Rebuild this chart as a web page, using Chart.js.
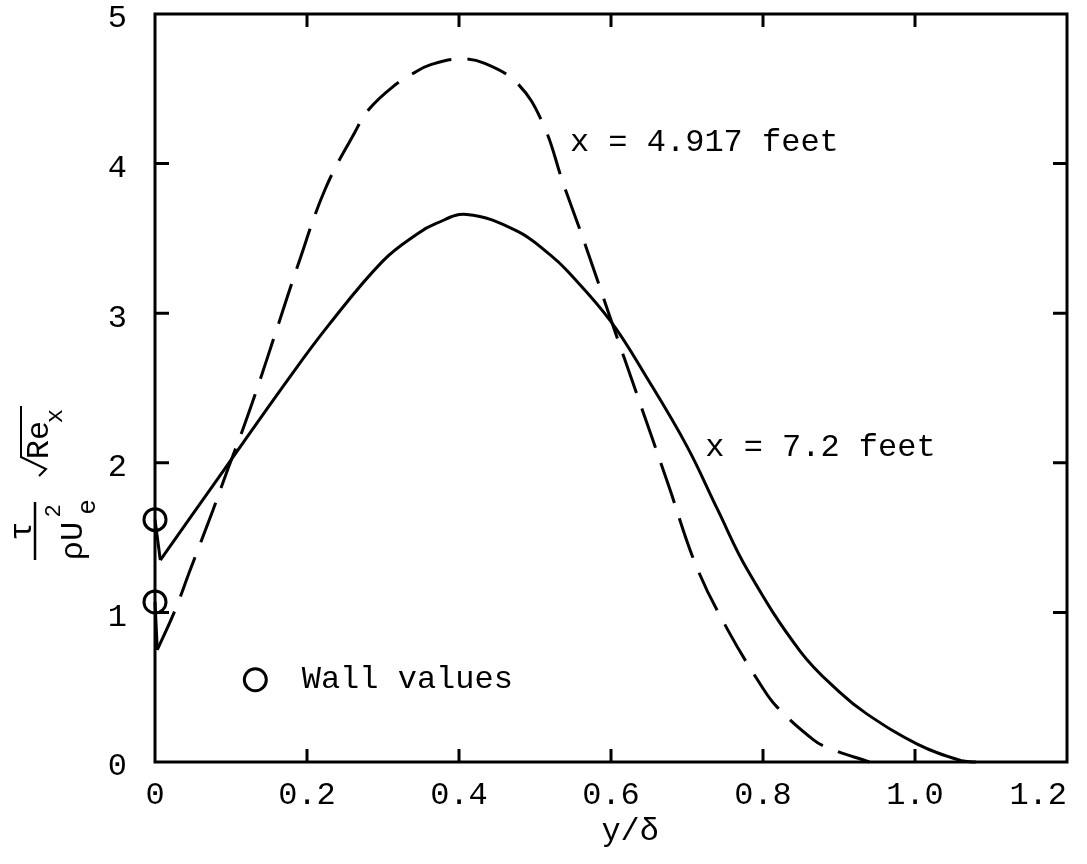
<!DOCTYPE html>
<html>
<head>
<meta charset="utf-8">
<title>Shear stress profiles</title>
<script src="https://cdn.jsdelivr.net/npm/chart.js@4.4.0/dist/chart.umd.min.js"></script>
<style>
html, body { margin: 0; padding: 0; background: #fff; }
#wrap { width: 1087px; height: 864px; position: relative; }
</style>
</head>
<body>
<div id="wrap"><canvas id="chart"></canvas></div>
<script>
// values: y/delta and tau/(rho Ue^2) * sqrt(Re_x)
// first two points of each curve are the drop from the wall value
var yd72 = [0, 0.007, 0.089, 0.174, 0.23, 0.30, 0.345, 0.37, 0.41, 0.476, 0.52, 0.543, 0.599, 0.647, 0.70, 0.74, 0.78, 0.849, 0.90, 0.937, 1.003, 1.06, 1.08];
var tau72 = [1.62, 1.35, 1.94, 2.55, 2.93, 3.35, 3.53, 3.60, 3.66, 3.55, 3.39, 3.28, 2.95, 2.57, 2.11, 1.69, 1.28, 0.74, 0.47, 0.32, 0.12, 0.01, 0];

var yd49 = [0, 0.003, 0.026, 0.046, 0.076, 0.096, 0.116, 0.134, 0.160, 0.188, 0.224, 0.263, 0.281, 0.312, 0.342, 0.362, 0.40, 0.434, 0.478, 0.511, 0.537, 0.566, 0.599, 0.636, 0.675, 0.713, 0.754, 0.799, 0.818, 0.866, 0.888, 0.94];
var tau49 = [1.07, 0.75, 1.01, 1.28, 1.68, 1.96, 2.23, 2.49, 2.89, 3.32, 3.83, 4.21, 4.36, 4.51, 4.61, 4.66, 4.70, 4.67, 4.53, 4.26, 3.87, 3.46, 2.97, 2.43, 1.86, 1.30, 0.88, 0.50, 0.37, 0.15, 0.09, 0];

var wallYd = [0, 0];
var wallTau = [1.62, 1.07];

var xTickLabels = ['0', '0.2', '0.4', '0.6', '0.8', '1.0', '1.2'];
var yTickLabels = ['0', '1', '2', '3', '4', '5'];
var curveNames = ['x = 7.2 feet', 'x = 4.917 feet'];
var legendText = 'Wall values';

var FONT = "'Liberation Mono', 'DejaVu Sans Mono', monospace";

function pts(xs, ys) {
    return xs.map(function(x, i) { return { x: x, y: ys[i] }; });
}

function line(xs, ys, dash, tension) {
    return {
        data: pts(xs, ys),
        showLine: true,
        borderColor: '#000',
        borderWidth: 3,
        borderDash: dash,
        pointRadius: 0,
        tension: tension,
        clip: false
    };
}

// box, inward ticks on all four sides, labels and the stacked y title
var decor = {
    id: 'decor',
    afterDatasetsDraw: function(chart) {
        var ctx = chart.ctx, a = chart.chartArea;
        var sx = chart.scales.x, sy = chart.scales.y;
        ctx.save();
        ctx.strokeStyle = '#000';
        ctx.fillStyle = '#000';
        ctx.lineWidth = 3;
        ctx.strokeRect(a.left, a.top, a.right - a.left, a.bottom - a.top);

        ctx.beginPath();
        sx.ticks.forEach(function(t, i) {
            if (i === 0 || i === sx.ticks.length - 1) return;
            var px = sx.getPixelForValue(t.value);
            ctx.moveTo(px, a.bottom); ctx.lineTo(px, a.bottom - 13);
            ctx.moveTo(px, a.top); ctx.lineTo(px, a.top + 13);
        });
        sy.ticks.forEach(function(t, i) {
            if (i === 0 || i === sy.ticks.length - 1) return;
            var py = sy.getPixelForValue(t.value);
            ctx.moveTo(a.left, py); ctx.lineTo(a.left + 14, py);
            ctx.moveTo(a.right, py); ctx.lineTo(a.right - 14, py);
        });
        ctx.stroke();

        // curve labels
        ctx.font = '32px ' + FONT;
        ctx.textAlign = 'left';
        ctx.textBaseline = 'middle';
        ctx.fillText(curveNames[0], sx.getPixelForValue(0.724), sy.getPixelForValue(2.10));
        ctx.fillText(curveNames[1], sx.getPixelForValue(0.546), sy.getPixelForValue(4.14));

        // legend
        ctx.lineWidth = 3;
        ctx.beginPath();
        ctx.arc(sx.getPixelForValue(0.132), sy.getPixelForValue(0.55), 11, 0, Math.PI * 2);
        ctx.stroke();
        ctx.fillText(legendText, sx.getPixelForValue(0.193), sy.getPixelForValue(0.55));

        // y title:  tau / (rho Ue^2) * sqrt(Re_x), rotated
        function rot(txt, x, y, size) {
            ctx.save();
            ctx.translate(x, y);
            ctx.rotate(-Math.PI / 2);
            ctx.font = size + 'px ' + FONT;
            ctx.textAlign = 'center';
            ctx.textBaseline = 'alphabetic';
            ctx.fillText(txt, 0, 0);
            ctx.restore();
        }
        rot('\u03c4', 31, 531, 32);
        rot('\u03c1U', 82, 541, 32);
        rot('2', 60, 511, 22);
        rot('e', 95, 507, 26);
        rot('Re', 48, 440, 32);
        rot('x', 62, 416, 24);
        ctx.lineWidth = 2.5;
        ctx.beginPath();
        ctx.moveTo(35, 502); ctx.lineTo(35, 560);
        ctx.stroke();
        ctx.lineWidth = 2;
        ctx.beginPath();
        ctx.moveTo(39, 476); ctx.lineTo(46, 469); ctx.lineTo(21, 457); ctx.lineTo(21, 406);
        ctx.stroke();
        ctx.restore();
    }
};

var wall = {
    data: pts(wallYd, wallTau),
    showLine: false,
    pointRadius: 11,
    pointBorderWidth: 3,
    pointBorderColor: '#000',
    pointBackgroundColor: 'rgba(0,0,0,0)',
    clip: false
};

var ctx = document.getElementById('chart').getContext('2d');
window.chart = new Chart(ctx, {
    type: 'scatter',
    data: {
        datasets: [
            line(yd72.slice(0, 2), tau72.slice(0, 2), [], 0),
            line(yd72.slice(1), tau72.slice(1), [], 0.4),
            line(yd49.slice(0, 2), tau49.slice(0, 2), [], 0),
            line(yd49.slice(1), tau49.slice(1), [42, 16], 0.4),
            wall
        ]
    },
    options: {
        responsive: true,
        maintainAspectRatio: false,
        animation: false,
        layout: { padding: { top: 12, right: 20, left: 0, bottom: 0 } },
        plugins: { legend: { display: false }, tooltip: { enabled: false } },
        scales: {
            x: {
                type: 'linear',
                min: 0, max: 1.2,
                grid: { display: false, drawTicks: false },
                border: { display: false },
                ticks: {
                    stepSize: 0.2,
                    padding: 14,
                    color: '#000',
                    font: { family: FONT, size: 32 },
                    callback: function(v, i, all) {
                        // last label is typed inside the box edge
                        return xTickLabels[i] + (i === all.length - 1 ? '   ' : '');
                    }
                },
                title: {
                    display: true,
                    text: '  y/\u03b4',
                    color: '#000',
                    font: { family: FONT, size: 32, lineHeight: 1 },
                    padding: { top: 0, bottom: 16 }
                },
                afterFit: function(s) {
                    s.height = 102;
                    s.paddingLeft = 0; s.paddingRight = 0;
                }
            },
            y: {
                type: 'linear',
                min: 0, max: 5,
                grid: { display: false, drawTicks: false },
                border: { display: false },
                ticks: {
                    stepSize: 1,
                    padding: 28,
                    labelOffset: 5,
                    color: '#000',
                    font: { family: FONT, size: 32 },
                    callback: function(v, i) { return yTickLabels[i]; }
                },
                afterFit: function(s) {
                    s.width = 155;
                    s.paddingTop = 0; s.paddingBottom = 0;
                }
            }
        }
    },
    plugins: [decor]
});
</script>
</body>
</html>
